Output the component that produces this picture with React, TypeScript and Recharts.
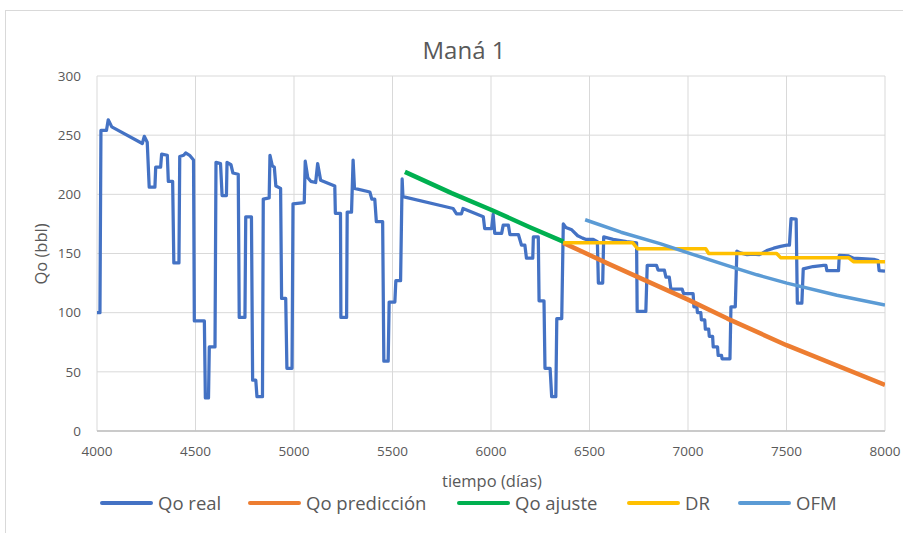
import { LineChart, Line, XAxis, YAxis, CartesianGrid } from 'recharts';

const FONT = "'Open Sans', sans-serif";
const TEXT = '#595959';

const xTicks = [4000, 4500, 5000, 5500, 6000, 6500, 7000, 7500, 8000];
const yTicks = [0, 50, 100, 150, 200, 250, 300];

// Qo real (días, bbl)
const realDays = [
  4000, 4015, 4020, 4048, 4057, 4075, 4230, 4240, 4255, 4265, 4294, 4298, 4323, 4328, 4357, 4362,
  4384, 4390, 4416, 4420, 4440, 4450, 4470, 4490, 4494, 4545, 4550, 4566, 4570, 4599, 4604, 4627,
  4635, 4657, 4660, 4680, 4690, 4717, 4722, 4751, 4755, 4784, 4790, 4806, 4812, 4840, 4844, 4874,
  4878, 4890, 4900, 4908, 4932, 4937, 4958, 4964, 4990, 4995, 5052, 5057, 5070, 5085, 5110, 5120,
  5135, 5207, 5210, 5236, 5238, 5267, 5270, 5292, 5300, 5307, 5385, 5395, 5410, 5418, 5450, 5456,
  5478, 5483, 5512, 5517, 5541, 5549, 5553, 5808, 5825, 5850, 5858, 5961, 5968, 6003, 6011, 6019,
  6054, 6062, 6088, 6096, 6139, 6155, 6172, 6180, 6212, 6215, 6240, 6244, 6269, 6274, 6300, 6308,
  6329, 6334, 6359, 6367, 6380, 6410, 6440, 6465, 6480, 6519, 6540, 6545, 6567, 6572, 6620, 6688,
  6739, 6742, 6786, 6793, 6840, 6848, 6880, 6888, 6905, 6913, 6970, 6978, 7026, 7030, 7045, 7048,
  7065, 7068, 7085, 7088, 7105, 7108, 7125, 7128, 7150, 7153, 7170, 7173, 7213, 7218, 7240, 7248,
  7265, 7300, 7330, 7360, 7380, 7400, 7435, 7470, 7502, 7515, 7523, 7549, 7555, 7578, 7585, 7635,
  7688, 7700, 7705, 7764, 7768, 7815, 7840, 7943, 7965, 7970, 8000,
];
const realQo = [
  100, 100, 254, 254, 263, 257, 243, 249, 244, 206, 206, 223, 223, 234, 233, 211,
  211, 142, 142, 232, 233, 235, 233, 229, 93, 93, 28, 28, 71, 71, 227, 226,
  199, 199, 227, 225, 218, 217, 96, 96, 181, 181, 43, 43, 29, 29, 196, 197,
  233, 224, 223, 207, 205, 112, 112, 53, 53, 192, 193, 228, 214, 211, 210, 226,
  212, 207, 184, 184, 96, 96, 185, 185, 229, 205, 202, 196, 196, 177, 177, 59,
  59, 109, 109, 127, 127, 213, 198, 188, 183.5, 183.5, 188, 181, 171, 171, 183, 167,
  167, 174, 174, 166, 166, 157, 157, 146, 146, 164, 164, 110, 110, 53, 53, 29,
  29, 95, 95, 175, 172, 170, 165, 163, 162, 162, 160, 125, 125, 164, 162, 160,
  159, 101, 101, 140, 140, 136, 136, 130, 130, 120, 120, 116, 116, 105, 105, 100,
  100, 94, 94, 86, 86, 80, 80, 71, 71, 64, 64, 61, 61, 105, 105, 152,
  150.5, 149, 149.5, 149, 150.5, 152.5, 154.5, 156, 157, 157, 179.5, 179, 108, 108, 137, 139,
  140, 140, 135.5, 135.5, 148.5, 148, 146, 145, 144, 135.5, 135,
];

// Qo predicción
const predDays = [6367, 6600, 7000, 7200, 7500, 8000];
const predQo = [159, 141, 111, 95, 72.5, 39];

// Qo ajuste
const ajusteDays = [5563, 5800, 6000, 6200, 6367];
const ajusteQo = [219, 201, 187, 172, 160];

// DR
const drDays = [6367, 6720, 6745, 7090, 7105, 7450, 7470, 7815, 7840, 8000];
const drQo = [159, 159, 154, 154, 150, 150, 146.5, 146.5, 143, 143];

// OFM
const ofmDays = [6478, 6660, 6858, 7020, 7197, 7350, 7502, 7756, 8000];
const ofmQo = [178.5, 168, 158.3, 149.5, 140, 132, 125, 114.7, 106.5];

const toPoints = (days: number[], qo: number[]) => days.map((t, i) => ({ t, q: qo[i] }));

const series = [
  { name: 'Qo real', color: '#4472C4', width: 3.25, legendX: 100, data: toPoints(realDays, realQo) },
  { name: 'Qo predicción', color: '#ED7D31', width: 4.5, legendX: 248, data: toPoints(predDays, predQo) },
  { name: 'Qo ajuste', color: '#00B050', width: 4.5, legendX: 457, data: toPoints(ajusteDays, ajusteQo) },
  { name: 'DR', color: '#FFC000', width: 3.5, legendX: 627, data: toPoints(drDays, drQo) },
  { name: 'OFM', color: '#5B9BD5', width: 3.5, legendX: 738, data: toPoints(ofmDays, ofmQo) },
];

export default function App() {
  return (
    <div
      style={{
        position: 'absolute',
        left: 0,
        top: 0,
        width: 903,
        height: 533,
        overflow: 'hidden',
        background: '#fff',
        fontFamily: FONT,
      }}
    >
      <div
        style={{
          position: 'absolute',
          left: 5,
          top: 10,
          width: 920,
          height: 560,
          border: '1px solid #d9d9d9',
        }}
      />
      <div
        style={{
          position: 'absolute',
          left: 314,
          width: 300,
          top: 33,
          textAlign: 'center',
          fontSize: 24,
          lineHeight: 'normal',
          color: TEXT,
        }}
      >
        Maná 1
      </div>
      <LineChart
        width={903}
        height={533}
        margin={{ top: 76, right: 18, bottom: 0, left: 0 }}
        style={{ position: 'absolute', left: 0, top: 0 }}
      >
        <CartesianGrid stroke="#d9d9d9" strokeWidth={1} />
        <XAxis
          type="number"
          dataKey="t"
          domain={[4000, 8000]}
          ticks={xTicks}
          allowDataOverflow
          height={102}
          tickLine={false}
          tickSize={0}
          tickMargin={15}
          axisLine={{ stroke: '#bfbfbf', strokeWidth: 1.5 }}
          tick={{ fill: TEXT, fontSize: 13.5, fontFamily: FONT }}
        />
        <YAxis
          type="number"
          domain={[0, 300]}
          ticks={yTicks}
          width={97}
          tickLine={false}
          axisLine={false}
          tickSize={0}
          tickMargin={16}
          tick={{ fill: TEXT, fontSize: 13.5, fontFamily: FONT }}
        />
        {series.map((s) => (
          <Line
            key={s.name}
            data={s.data}
            dataKey="q"
            name={s.name}
            type="linear"
            stroke={s.color}
            strokeWidth={s.width}
            dot={false}
            activeDot={false}
            isAnimationActive={false}
            strokeLinejoin="round"
          />
        ))}
      </LineChart>
      <svg
        width={80}
        height={533}
        style={{ position: 'absolute', left: 0, top: 0 }}
      >
        <text
          x={47}
          y={254}
          transform="rotate(-90 47 254)"
          textAnchor="middle"
          fontSize={16.5}
          fontFamily={FONT}
          fill={TEXT}
        >
          Qo (bbl)
        </text>
      </svg>
      <div
        style={{
          position: 'absolute',
          left: 342,
          width: 300,
          top: 469,
          textAlign: 'center',
          fontSize: 16.5,
          lineHeight: 'normal',
          color: TEXT,
        }}
      >
        tiempo (días)
      </div>
      {series.map((s) => (
        <div
          key={s.name}
          style={{
            position: 'absolute',
            left: s.legendX,
            top: 490,
            display: 'flex',
            alignItems: 'center',
            fontSize: 18.5,
            lineHeight: 'normal',
            color: TEXT,
            whiteSpace: 'nowrap',
          }}
        >
          <div
            style={{
              width: 53,
              height: 4,
              borderRadius: 2,
              background: s.color,
              marginRight: 5,
            }}
          />
          <span>{s.name}</span>
        </div>
      ))}
    </div>
  );
}
